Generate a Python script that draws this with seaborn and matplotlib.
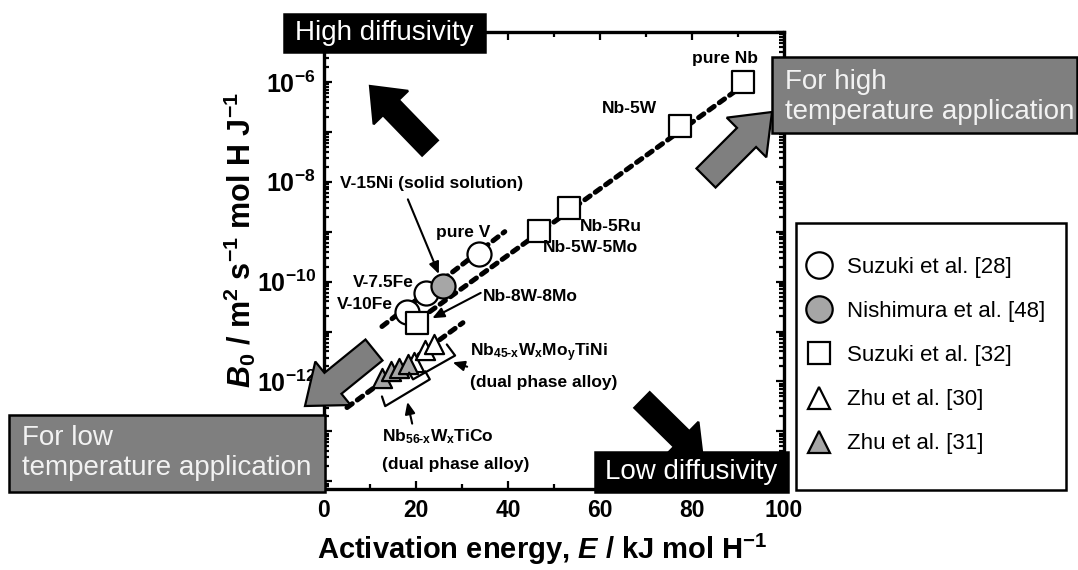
import matplotlib
matplotlib.use("Agg")
import matplotlib.pyplot as plt
import matplotlib.patches as mpatches
from matplotlib.lines import Line2D
from matplotlib.ticker import LogLocator, FuncFormatter, MultipleLocator, NullFormatter
import numpy as np
import seaborn as sns

sns.set_style("ticks")
plt.rcParams["font.family"] = ["Liberation Sans", "DejaVu Sans"]
plt.rcParams["mathtext.fontset"] = "custom"
plt.rcParams["mathtext.rm"] = "Liberation Sans:bold"
plt.rcParams["mathtext.bf"] = "Liberation Sans:bold"
plt.rcParams["mathtext.it"] = "Liberation Sans:italic:bold"
plt.rcParams["mathtext.default"] = "rm"
for key in ["text.color", "axes.labelcolor", "xtick.color", "ytick.color", "axes.edgecolor"]:
    plt.rcParams[key] = "black"

# ---- data: activation energy E (kJ/mol H) and pre-exponential B0 ----
suzuki28_E = [33.7, 22.2, 18.0]
suzuki28_B = [3.6e-10, 5.8e-11, 2.5e-11]

nishimura48_E = [25.9]
nishimura48_B = [8.3e-11]

suzuki32_E = [91.1, 77.4, 53.3, 46.7, 20.2]
suzuki32_B = [1.0e-6, 1.3e-7, 3.0e-9, 1.05e-9, 1.45e-11]

zhu30_E = [19.5, 22.0, 24.0]
zhu30_B = [2.4e-12, 4.2e-12, 5.6e-12]

zhu31_E = [12.6, 14.6, 16.4, 18.2]
zhu31_B = [1.15e-12, 1.6e-12, 1.9e-12, 2.2e-12]

series_names = ["Suzuki et al. [28]", "Nishimura et al. [48]", "Suzuki et al. [32]",
                "Zhu et al. [30]", "Zhu et al. [31]"]

# iso-diffusivity guide lines (end points)
guide_v_E = [12.6, 39.3]
guide_v_B = [1.26e-11, 1.0e-9]
guide_nb_E = [23.0, 90.4]
guide_nb_B = [2.5e-11, 7.6e-7]
guide_low_E = [5.0, 30.2]
guide_low_B = [3.0e-13, 1.5e-11]

# ---- figure ----
W, H = 1078, 570
fig = plt.figure(figsize=(W / 100, H / 100), dpi=100)
ax = fig.add_axes([324 / W, 1 - 489 / H, 460 / W, 457 / H])

dot_style = dict(color="black", lw=3.6, linestyle=(0, (1.3, 1.25)),
                 dash_capstyle="round", zorder=2)
for ge, gb in [(guide_v_E, guide_v_B), (guide_nb_E, guide_nb_B), (guide_low_E, guide_low_B)]:
    sns.lineplot(x=ge, y=gb, ax=ax, legend=False, **dot_style)

gray = "#a6a6a6"
styles = [
    (suzuki28_E, suzuki28_B, "o", "white", 300),
    (nishimura48_E, nishimura48_B, "o", gray, 300),
    (suzuki32_E, suzuki32_B, "s", "white", 230),
    (zhu30_E, zhu30_B, "^", "white", 190),
    (zhu31_E, zhu31_B, "^", gray, 190),
]
for e, b, m, fc, s in styles:
    sns.scatterplot(x=e, y=b, marker=m, s=s, color=fc, edgecolor="black",
                    linewidth=1.6, ax=ax, legend=False, zorder=4)

ax.set_yscale("log")
ax.set_xlim(0, 100)
ax.set_ylim(7e-15, 1e-5)
ax.xaxis.set_major_locator(MultipleLocator(20))
ax.xaxis.set_minor_locator(MultipleLocator(10))
ax.yaxis.set_major_locator(LogLocator(base=10, numticks=30))
ax.yaxis.set_minor_locator(LogLocator(base=10, subs=np.arange(2, 10), numticks=30))
ax.yaxis.set_minor_formatter(NullFormatter())


def exp_label(v, pos):
    k = int(round(np.log10(v)))
    return r"$\mathbf{10^{%d}}$" % k if k % 2 == 0 and k > -13 else ""


ax.yaxis.set_major_formatter(FuncFormatter(exp_label))
ax.tick_params(which="both", direction="in", top=True, right=True, width=1.6)
ax.tick_params(axis="x", which="major", length=6, labelsize=16.5, pad=7)
ax.tick_params(axis="y", which="major", length=6, labelsize=18, pad=6)
ax.tick_params(which="minor", length=3.5)
for lab in ax.get_xticklabels():
    lab.set_fontweight("bold")
for sp in ax.spines.values():
    sp.set_linewidth(2.4)

ax.set_xlabel(r"Activation energy, $\mathit{E}$ / kJ mol H$^{-1}$",
              fontsize=21, fontweight="bold")
ax.xaxis.set_label_coords(0.474, -0.094)
ax.set_ylabel(r"$\mathit{B}_{0}$ / m$^{2}$ s$^{-1}$ mol H J$^{-1}$",
              fontsize=22, fontweight="bold")
ax.yaxis.set_label_coords(-0.143, 0.545)

# ---- point labels ----
lab_kw = dict(fontsize=12.5, fontweight="bold", va="center", zorder=5)
ax.text(87.2, 2.9e-6, "pure Nb", ha="center", **lab_kw)
ax.text(66.5, 3.0e-7, "Nb-5W", ha="center", **lab_kw)
ax.text(55.7, 1.26e-9, "Nb-5Ru", ha="left", **lab_kw)
ax.text(47.6, 4.8e-10, "Nb-5W-5Mo", ha="left", **lab_kw)
ax.text(3.5, 9.1e-9, "V-15Ni (solid solution)", ha="left", **lab_kw)
ax.text(30.2, 9.5e-10, "pure V", ha="center", **lab_kw)
ax.text(12.8, 9.5e-11, "V-7.5Fe", ha="center", **lab_kw)
ax.text(8.9, 3.5e-11, "V-10Fe", ha="center", **lab_kw)
ax.text(34.6, 5.0e-11, "Nb-8W-8Mo", ha="left", **lab_kw)
ax.text(31.7, 3.8e-12, r"Nb$_{\text{45-x}}$W$_{\text{x}}$Mo$_{\text{y}}$TiNi", ha="left", **lab_kw)
ax.text(31.7, 9.5e-13, "(dual phase alloy)", ha="left", **lab_kw)
ax.text(12.6, 7.9e-14, r"Nb$_{\text{56-x}}$W$_{\text{x}}$TiCo", ha="left", **lab_kw)
ax.text(12.6, 2.2e-14, "(dual phase alloy)", ha="left", **lab_kw)

arr_kw = dict(arrowstyle="-|>,head_length=0.7,head_width=0.3", color="black", lw=1.5)
pointers = [((18.0, 5.0e-9), (25.2, 1.26e-10)),
            ((34.6, 6.3e-11), (23.0, 1.74e-11)),
            ((31.7, 1.9e-12), (27.4, 2.5e-12)),
            ((19.3, 1.26e-13), (18.0, 4.4e-13))]
for start, end in pointers:
    ax.annotate("", xy=end, xytext=start, arrowprops=arr_kw, zorder=5)

# brackets around the dual-phase alloy groups
bracket_upper_E = [18.5, 19.35, 28.5, 26.7]
bracket_upper_B = [1.5e-12, 1.1e-12, 3.3e-12, 5.5e-12]
bracket_lower_E = [12.6, 13.3, 23.0, 22.0]
bracket_lower_B = [5.0e-13, 3.2e-13, 1.1e-12, 1.6e-12]
ax.plot(bracket_upper_E, bracket_upper_B, color="black", lw=1.6, zorder=5)
ax.plot(bracket_lower_E, bracket_lower_B, color="black", lw=1.6, zorder=5)


# ---- decorations in figure pixels ----
def px(x, y):
    return x / 100, (H - y) / 100


def figfrac(x, y):
    return x / W, 1 - y / H


def block_arrow(tail, tip, fc, width=0.22, hw=0.48, hl=0.30):
    x0, y0 = px(*tail)
    x1, y1 = px(*tip)
    a = mpatches.FancyArrow(x0, y0, x1 - x0, y1 - y0, width=width, head_width=hw,
                            head_length=hl, length_includes_head=True,
                            transform=fig.dpi_scale_trans, facecolor=fc,
                            edgecolor="black", lw=1.6, zorder=3)
    fig.add_artist(a)


block_arrow((430, 148), (370, 86), "black")
block_arrow((642, 400), (703, 460), "black")
block_arrow((706, 178), (772, 112), "#7f7f7f", width=0.27, hw=0.56, hl=0.36)
block_arrow((374, 350), (305, 406), "#7f7f7f", width=0.27, hw=0.56, hl=0.36)


def box(x0, y0, x1, y1, fc):
    bx, by = px(x0, y1)
    r = mpatches.Rectangle((bx, by), (x1 - x0) / 100, (y1 - y0) / 100,
                           transform=fig.dpi_scale_trans, facecolor=fc,
                           edgecolor="black", lw=1.8, zorder=4)
    fig.add_artist(r)


box(284, 14, 485, 52, "black")
fig.text(*figfrac(384.5, 33), "High diffusivity", color="white",
         fontsize=20, ha="center", va="center", zorder=6)
box(595, 452, 788, 492, "black")
fig.text(*figfrac(691.5, 472), "Low diffusivity", color="white",
         fontsize=20, ha="center", va="center", zorder=6)
box(772, 57, 1077, 133, "#7f7f7f")
fig.text(*figfrac(785, 97), "For high\ntemperature application",
         color="#f2f2f2", fontsize=20, ha="left", va="center", linespacing=1.22, zorder=6)
box(9, 415, 325, 492, "#7f7f7f")
fig.text(*figfrac(22, 453), "For low\ntemperature application",
         color="#f2f2f2", fontsize=20, ha="left", va="center", linespacing=1.22, zorder=6)

# ---- legend ----
box(796, 223, 1066, 490, "white")
handles = [
    Line2D([], [], ls="", marker="o", markersize=19, mfc="white", mec="black", mew=1.6),
    Line2D([], [], ls="", marker="o", markersize=19, mfc=gray, mec="black", mew=1.6),
    Line2D([], [], ls="", marker="s", markersize=16, mfc="white", mec="black", mew=1.6),
    Line2D([], [], ls="", marker="^", markersize=16, mfc="white", mec="black", mew=1.6),
    Line2D([], [], ls="", marker="^", markersize=16, mfc=gray, mec="black", mew=1.6),
]
leg = fig.legend(handles, series_names, loc="upper left",
                 bbox_to_anchor=figfrac(806, 257), frameon=False,
                 fontsize=16, handlelength=1.2, handletextpad=0.64,
                 labelspacing=1.04, borderpad=0, borderaxespad=0)
leg.set_zorder(7)

fig.savefig("out.png", dpi=100)
